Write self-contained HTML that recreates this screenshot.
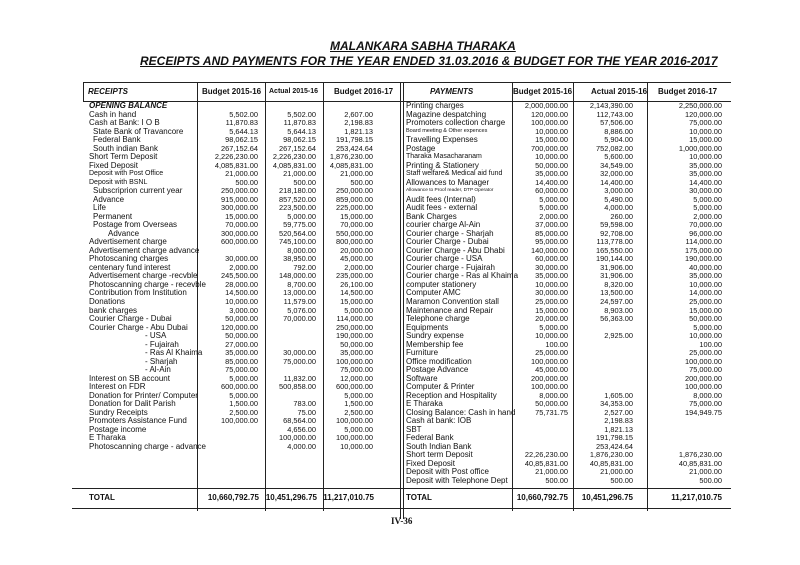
<!DOCTYPE html>
<html><head><meta charset="utf-8"><style>
body{margin:0;background:#fff;}
#p{position:relative;width:800px;height:565px;overflow:hidden;font-family:"Liberation Sans",Arial,sans-serif;color:#111;font-size:8px;}
.t{position:absolute;font-weight:bold;font-style:italic;text-decoration:underline;font-size:12px;white-space:nowrap;}
.r{position:absolute;left:0;width:800px;height:9px;line-height:9px;white-space:nowrap;}
.r span{position:absolute;top:0;}
.l{left:89px}.pl{left:406px}
.a,.b,.c,.pa,.pb,.pc{font-size:7.4px}
.a{right:542px}.b{right:484px}.c{right:427px}
.pa{right:232px}.pb{right:167px}.pc{right:78px}
.i1{left:93px}.i2{left:108px}.d{left:145px}
.s{font-size:5.5px}
.h{position:absolute;background:#222;height:1px}
.v{position:absolute;background:#222;width:1px}
.hd{position:absolute;top:87px;font-weight:bold;font-size:8px;}
.bi{font-weight:bold;font-style:italic}
.bt span{font-weight:bold;font-size:8px}
</style></head><body><div id="p">
<div class="t" style="left:330px;top:39px">MALANKARA SABHA THARAKA</div>
<div class="t" style="left:140px;top:54px">RECEIPTS AND PAYMENTS FOR THE YEAR ENDED 31.03.2016 &amp; BUDGET FOR THE YEAR 2016-2017</div>

<div class="h" style="left:83px;top:82px;width:648px"></div>
<div class="h" style="left:83px;top:101px;width:648px"></div>
<div class="h" style="left:72px;top:488px;width:659px"></div>
<div class="h" style="left:72px;top:508px;width:659px"></div>
<div class="v" style="left:83px;top:82px;height:19px"></div>
<div class="v" style="left:197px;top:82px;height:429px"></div>
<div class="v" style="left:265px;top:82px;height:429px"></div>
<div class="v" style="left:323px;top:82px;height:429px"></div>
<div class="v" style="left:400px;top:82px;height:437px"></div>
<div class="v" style="left:403px;top:82px;height:437px"></div>
<div class="v" style="left:512px;top:82px;height:429px"></div>
<div class="v" style="left:573px;top:82px;height:429px"></div>
<div class="v" style="left:647px;top:82px;height:429px"></div>

<div class="hd bi" style="left:88px">RECEIPTS</div>
<div class="hd" style="left:202px">Budget 2015-16</div>
<div class="hd" style="left:269px;font-size:7px;top:88px">Actual 2015-16</div>
<div class="hd" style="left:334px">Budget 2016-17</div>
<div class="hd bi" style="left:430px">PAYMENTS</div>
<div class="hd" style="left:513px">Budget 2015-16</div>
<div class="hd" style="left:591px">Actual 2015-16</div>
<div class="hd" style="left:658px">Budget 2016-17</div>

<div class="r" style="top:101px"><span class="l bi">OPENING BALANCE</span><span class="pl">Printing charges</span><span class="pa">2,000,000.00</span><span class="pb">2,143,390.00</span><span class="pc">2,250,000.00</span></div>
<div class="r" style="top:109.5px"><span class="l">Cash in hand</span><span class="a">5,502.00</span><span class="b">5,502.00</span><span class="c">2,607.00</span><span class="pl">Magazine despatching</span><span class="pa">120,000.00</span><span class="pb">112,743.00</span><span class="pc">120,000.00</span></div>
<div class="r" style="top:118px"><span class="l">Cash at Bank: I O B</span><span class="a">11,870.83</span><span class="b">11,870.83</span><span class="c">2,198.83</span><span class="pl">Promoters collection charge</span><span class="pa">100,000.00</span><span class="pb">57,506.00</span><span class="pc">75,000.00</span></div>
<div class="r" style="top:126.6px"><span class="i1">State Bank of Travancore</span><span class="a">5,644.13</span><span class="b">5,644.13</span><span class="c">1,821.13</span><span class="pl s">Board meeting &amp; Other expences</span><span class="pa">10,000.00</span><span class="pb">8,886.00</span><span class="pc">10,000.00</span></div>
<div class="r" style="top:135.1px"><span class="i1">Federal Bank</span><span class="a">98,062.15</span><span class="b">98,062.15</span><span class="c">191,798.15</span><span class="pl">Travelling Expenses</span><span class="pa">15,000.00</span><span class="pb">5,904.00</span><span class="pc">15,000.00</span></div>
<div class="r" style="top:143.6px"><span class="i1">South indian Bank</span><span class="a">267,152.64</span><span class="b">267,152.64</span><span class="c">253,424.64</span><span class="pl">Postage</span><span class="pa">700,000.00</span><span class="pb">752,082.00</span><span class="pc">1,000,000.00</span></div>
<div class="r" style="top:152.1px"><span class="l">Short Term Deposit</span><span class="a">2,226,230.00</span><span class="b">2,226,230.00</span><span class="c">1,876,230.00</span><span class="pl" style="font-size:7px">Tharaka Masacharanam</span><span class="pa">10,000.00</span><span class="pb">5,600.00</span><span class="pc">10,000.00</span></div>
<div class="r" style="top:160.6px"><span class="l">Fixed Deposit</span><span class="a">4,085,831.00</span><span class="b">4,085,831.00</span><span class="c">4,085,831.00</span><span class="pl">Printing &amp; Stationery</span><span class="pa">50,000.00</span><span class="pb">34,549.00</span><span class="pc">35,000.00</span></div>
<div class="r" style="top:169.2px"><span class="l" style="font-size:7px">Deposit with Post Office</span><span class="a">21,000.00</span><span class="b">21,000.00</span><span class="c">21,000.00</span><span class="pl" style="font-size:7px">Staff welfare&amp; Medical aid fund</span><span class="pa">35,000.00</span><span class="pb">32,000.00</span><span class="pc">35,000.00</span></div>
<div class="r" style="top:177.7px"><span class="l" style="font-size:7px">Deposit with BSNL</span><span class="a">500.00</span><span class="b">500.00</span><span class="c">500.00</span><span class="pl">Allowances to Manager</span><span class="pa">14,400.00</span><span class="pb">14,400.00</span><span class="pc">14,400.00</span></div>
<div class="r" style="top:186.2px"><span class="i1">Subscriprion current year</span><span class="a">250,000.00</span><span class="b">218,180.00</span><span class="c">250,000.00</span><span class="pl s" style="font-size:4.8px">Allowance to Proof reader, DTP Operator</span><span class="pa">60,000.00</span><span class="pb">3,000.00</span><span class="pc">30,000.00</span></div>
<div class="r" style="top:194.7px"><span class="i1">Advance</span><span class="a">915,000.00</span><span class="b">857,520.00</span><span class="c">859,000.00</span><span class="pl">Audit fees (Internal)</span><span class="pa">5,000.00</span><span class="pb">5,490.00</span><span class="pc">5,000.00</span></div>
<div class="r" style="top:203.2px"><span class="i1">Life</span><span class="a">300,000.00</span><span class="b">223,500.00</span><span class="c">225,000.00</span><span class="pl">Audit fees - external</span><span class="pa">5,000.00</span><span class="pb">4,000.00</span><span class="pc">5,000.00</span></div>
<div class="r" style="top:211.8px"><span class="i1">Permanent</span><span class="a">15,000.00</span><span class="b">5,000.00</span><span class="c">15,000.00</span><span class="pl">Bank Charges</span><span class="pa">2,000.00</span><span class="pb">260.00</span><span class="pc">2,000.00</span></div>
<div class="r" style="top:220.3px"><span class="i1">Postage from Overseas</span><span class="a">70,000.00</span><span class="b">59,775.00</span><span class="c">70,000.00</span><span class="pl">courier charge Al-Ain</span><span class="pa">37,000.00</span><span class="pb">59,598.00</span><span class="pc">70,000.00</span></div>
<div class="r" style="top:228.8px"><span class="i2">Advance</span><span class="a">300,000.00</span><span class="b">520,564.00</span><span class="c">550,000.00</span><span class="pl">Courier charge - Sharjah</span><span class="pa">85,000.00</span><span class="pb">92,708.00</span><span class="pc">96,000.00</span></div>
<div class="r" style="top:237.3px"><span class="l">Advertisement charge</span><span class="a">600,000.00</span><span class="b">745,100.00</span><span class="c">800,000.00</span><span class="pl">Courier Charge - Dubai</span><span class="pa">95,000.00</span><span class="pb">113,778.00</span><span class="pc">114,000.00</span></div>
<div class="r" style="top:245.8px"><span class="l">Advertisement charge advance</span><span class="b">8,000.00</span><span class="c">20,000.00</span><span class="pl">Courier Charge - Abu Dhabi</span><span class="pa">140,000.00</span><span class="pb">165,550.00</span><span class="pc">175,000.00</span></div>
<div class="r" style="top:254.4px"><span class="l">Photoscaning charges</span><span class="a">30,000.00</span><span class="b">38,950.00</span><span class="c">45,000.00</span><span class="pl">Courier charge - USA</span><span class="pa">60,000.00</span><span class="pb">190,144.00</span><span class="pc">190,000.00</span></div>
<div class="r" style="top:262.9px"><span class="l">centenary fund interest</span><span class="a">2,000.00</span><span class="b">792.00</span><span class="c">2,000.00</span><span class="pl">Courier charge - Fujairah</span><span class="pa">30,000.00</span><span class="pb">31,906.00</span><span class="pc">40,000.00</span></div>
<div class="r" style="top:271.4px"><span class="l">Advertisement charge -recvble</span><span class="a">245,500.00</span><span class="b">148,000.00</span><span class="c">235,000.00</span><span class="pl">Courier charge - Ras al Khaima</span><span class="pa">35,000.00</span><span class="pb">31,906.00</span><span class="pc">35,000.00</span></div>
<div class="r" style="top:279.9px"><span class="l">Photoscanning charge - recevble</span><span class="a">28,000.00</span><span class="b">8,700.00</span><span class="c">26,100.00</span><span class="pl">computer stationery</span><span class="pa">10,000.00</span><span class="pb">8,320.00</span><span class="pc">10,000.00</span></div>
<div class="r" style="top:288.4px"><span class="l">Contribution from Institution</span><span class="a">14,500.00</span><span class="b">13,000.00</span><span class="c">14,500.00</span><span class="pl">Computer AMC</span><span class="pa">30,000.00</span><span class="pb">13,500.00</span><span class="pc">14,000.00</span></div>
<div class="r" style="top:297px"><span class="l">Donations</span><span class="a">10,000.00</span><span class="b">11,579.00</span><span class="c">15,000.00</span><span class="pl">Maramon Convention stall</span><span class="pa">25,000.00</span><span class="pb">24,597.00</span><span class="pc">25,000.00</span></div>
<div class="r" style="top:305.5px"><span class="l">bank charges</span><span class="a">3,000.00</span><span class="b">5,076.00</span><span class="c">5,000.00</span><span class="pl">Maintenance and Repair</span><span class="pa">15,000.00</span><span class="pb">8,903.00</span><span class="pc">15,000.00</span></div>
<div class="r" style="top:314px"><span class="l">Courier Charge - Dubai</span><span class="a">50,000.00</span><span class="b">70,000.00</span><span class="c">114,000.00</span><span class="pl">Telephone charge</span><span class="pa">20,000.00</span><span class="pb">56,363.00</span><span class="pc">50,000.00</span></div>
<div class="r" style="top:322.5px"><span class="l">Courier Charge - Abu Dubai</span><span class="a">120,000.00</span><span class="c">250,000.00</span><span class="pl">Equipments</span><span class="pa">5,000.00</span><span class="pc">5,000.00</span></div>
<div class="r" style="top:331px"><span class="d">- USA</span><span class="a">50,000.00</span><span class="c">190,000.00</span><span class="pl">Sundry expense</span><span class="pa">10,000.00</span><span class="pb">2,925.00</span><span class="pc">10,000.00</span></div>
<div class="r" style="top:339.6px"><span class="d">- Fujairah</span><span class="a">27,000.00</span><span class="c">50,000.00</span><span class="pl">Membership fee</span><span class="pa">100.00</span><span class="pc">100.00</span></div>
<div class="r" style="top:348.1px"><span class="d">- Ras Al Khaima</span><span class="a">35,000.00</span><span class="b">30,000.00</span><span class="c">35,000.00</span><span class="pl">Furniture</span><span class="pa">25,000.00</span><span class="pc">25,000.00</span></div>
<div class="r" style="top:356.6px"><span class="d">- Sharjah</span><span class="a">85,000.00</span><span class="b">75,000.00</span><span class="c">100,000.00</span><span class="pl">Office modification</span><span class="pa">100,000.00</span><span class="pc">100,000.00</span></div>
<div class="r" style="top:365.1px"><span class="d">- Al-Ain</span><span class="a">75,000.00</span><span class="c">75,000.00</span><span class="pl">Postage Advance</span><span class="pa">45,000.00</span><span class="pc">75,000.00</span></div>
<div class="r" style="top:373.6px"><span class="l">Interest on SB account</span><span class="a">5,000.00</span><span class="b">11,832.00</span><span class="c">12,000.00</span><span class="pl">Software</span><span class="pa">200,000.00</span><span class="pc">200,000.00</span></div>
<div class="r" style="top:382.2px"><span class="l">Interest on FDR</span><span class="a">600,000.00</span><span class="b">500,858.00</span><span class="c">600,000.00</span><span class="pl">Computer &amp; Printer</span><span class="pa">100,000.00</span><span class="pc">100,000.00</span></div>
<div class="r" style="top:390.7px"><span class="l">Donation for Printer/ Computer</span><span class="a">5,000.00</span><span class="c">5,000.00</span><span class="pl">Reception and Hospitality</span><span class="pa">8,000.00</span><span class="pb">1,605.00</span><span class="pc">8,000.00</span></div>
<div class="r" style="top:399.2px"><span class="l">Donation for Dalit Parish</span><span class="a">1,500.00</span><span class="b">783.00</span><span class="c">1,500.00</span><span class="pl">E Tharaka</span><span class="pa">50,000.00</span><span class="pb">34,353.00</span><span class="pc">75,000.00</span></div>
<div class="r" style="top:407.7px"><span class="l">Sundry Receipts</span><span class="a">2,500.00</span><span class="b">75.00</span><span class="c">2,500.00</span><span class="pl">Closing Balance: Cash in hand</span><span class="pa">75,731.75</span><span class="pb">2,527.00</span><span class="pc">194,949.75</span></div>
<div class="r" style="top:416.2px"><span class="l">Promoters Assistance Fund</span><span class="a">100,000.00</span><span class="b">68,564.00</span><span class="c">100,000.00</span><span class="pl">Cash at bank: IOB</span><span class="pb">2,198.83</span></div>
<div class="r" style="top:424.8px"><span class="l">Postage income</span><span class="b">4,656.00</span><span class="c">5,000.00</span><span class="pl">SBT</span><span class="pb">1,821.13</span></div>
<div class="r" style="top:433.3px"><span class="l">E Tharaka</span><span class="b">100,000.00</span><span class="c">100,000.00</span><span class="pl">Federal Bank</span><span class="pb">191,798.15</span></div>
<div class="r" style="top:441.8px"><span class="l">Photoscanning charge - advance</span><span class="b">4,000.00</span><span class="c">10,000.00</span><span class="pl">South Indian Bank</span><span class="pb">253,424.64</span></div>
<div class="r" style="top:450.3px"><span class="pl">Short term Deposit</span><span class="pa">22,26,230.00</span><span class="pb">1,876,230.00</span><span class="pc">1,876,230.00</span></div>
<div class="r" style="top:458.8px"><span class="pl">Fixed Deposit</span><span class="pa">40,85,831.00</span><span class="pb">40,85,831.00</span><span class="pc">40,85,831.00</span></div>
<div class="r" style="top:467.4px"><span class="pl">Deposit with Post office</span><span class="pa">21,000.00</span><span class="pb">21,000.00</span><span class="pc">21,000.00</span></div>
<div class="r" style="top:475.9px"><span class="pl">Deposit with Telephone Dept</span><span class="pa">500.00</span><span class="pb">500.00</span><span class="pc">500.00</span></div>

<div class="r bt" style="top:493px"><span class="l">TOTAL</span><span class="a" style="right:541px">10,660,792.75</span><span class="b" style="right:483px">10,451,296.75</span><span class="c" style="right:426px">11,217,010.75</span><span class="pl">TOTAL</span><span class="pa">10,660,792.75</span><span class="pb">10,451,296.75</span><span class="pc">11,217,010.75</span></div>

<div style="position:absolute;left:391px;top:516px;font-family:'Liberation Serif',serif;font-weight:bold;font-size:9px">IV-36</div>
</div></body></html>
